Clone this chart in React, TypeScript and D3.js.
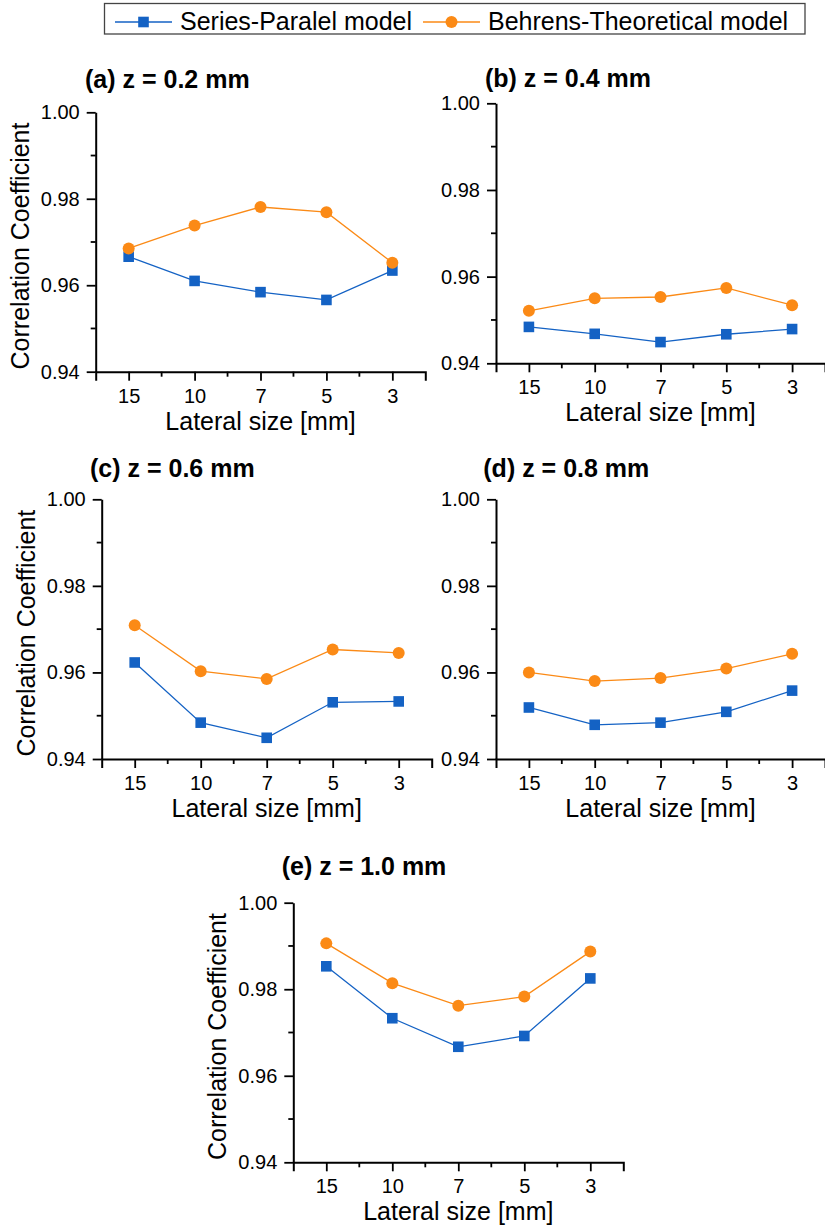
import React, { useEffect, useRef } from "react";
import * as d3 from "d3";

// Lateral sizes along the x axis (categorical, left to right)
const lateralSizes = ["15", "10", "7", "5", "3"];

// Correlation coefficients per depth z
const seriesParalelZ02 = [0.9666, 0.961, 0.9584, 0.9566, 0.9634];
const behrensZ02 = [0.9685, 0.9738, 0.9781, 0.9769, 0.9652];
const seriesParalelZ04 = [0.9484, 0.9468, 0.9449, 0.9467, 0.9479];
const behrensZ04 = [0.9521, 0.955, 0.9553, 0.9574, 0.9534];
const seriesParalelZ06 = [0.9623, 0.9484, 0.9449, 0.9531, 0.9533];
const behrensZ06 = [0.9709, 0.9603, 0.9585, 0.9653, 0.9645];
const seriesParalelZ08 = [0.9519, 0.9479, 0.9484, 0.9509, 0.9558];
const behrensZ08 = [0.96, 0.958, 0.9587, 0.9609, 0.9643];
const seriesParalelZ10 = [0.9853, 0.9733, 0.9667, 0.9692, 0.9825];
const behrensZ10 = [0.9906, 0.9814, 0.9762, 0.9783, 0.9887];

const yTicks = [0.94, 0.96, 0.98, 1.0];
const yMinorTicks = [0.95, 0.97, 0.99];
const panelTitles = [
  "(a) z = 0.2 mm",
  "(b) z = 0.4 mm",
  "(c) z = 0.6 mm",
  "(d) z = 0.8 mm",
  "(e) z = 1.0 mm",
];
const legendLabels = ["Series-Paralel model", "Behrens-Theoretical model"];

const BLUE = "#1462c4";
const ORANGE = "#fb8a16";
const FONT = "'Liberation Sans', Arial, Helvetica, sans-serif";
const SQ = 10.6; // square marker side
const CR = 6; // circle marker radius

type Panel = {
  title: string;
  sp: number[];
  bt: number[];
  left: number;
  top: number;
  width: number;
  height: number;
  titleX: number;
  titleY: number;
  yTitle: boolean;
};

const panels: Panel[] = [
  { title: panelTitles[0], sp: seriesParalelZ02, bt: behrensZ02, left: 95.7, top: 112.3, width: 329.6, height: 259.4, titleX: 85, titleY: 88.3, yTitle: true },
  { title: panelTitles[1], sp: seriesParalelZ04, bt: behrensZ04, left: 496, top: 103.3, width: 329, height: 260, titleX: 485, titleY: 86.7, yTitle: false },
  { title: panelTitles[2], sp: seriesParalelZ06, bt: behrensZ06, left: 101.7, top: 499.3, width: 330, height: 259.7, titleX: 90, titleY: 476.7, yTitle: true },
  { title: panelTitles[3], sp: seriesParalelZ08, bt: behrensZ08, left: 496, top: 499.3, width: 329, height: 259.7, titleX: 483.3, titleY: 476.7, yTitle: false },
  { title: panelTitles[4], sp: seriesParalelZ10, bt: behrensZ10, left: 293.3, top: 902.7, width: 330, height: 259.6, titleX: 281.7, titleY: 875, yTitle: true },
];

export default function App() {
  const ref = useRef<SVGSVGElement | null>(null);

  useEffect(() => {
    const svg = d3.select(ref.current);
    svg.selectAll("*").remove();

    // Legend
    const lg = svg.append("g");
    lg.append("rect")
      .attr("x", 104.5)
      .attr("y", 3.5)
      .attr("width", 700.5)
      .attr("height", 30.5)
      .attr("fill", "#fff")
      .attr("stroke", "#444")
      .attr("stroke-width", 1.3);
    const legendItems = [
      { x0: 115, color: BLUE, shape: "square", label: legendLabels[0] },
      { x0: 423, color: ORANGE, shape: "circle", label: legendLabels[1] },
    ];
    legendItems.forEach((it) => {
      lg.append("line")
        .attr("x1", it.x0)
        .attr("x2", it.x0 + 57)
        .attr("y1", 22)
        .attr("y2", 22)
        .attr("stroke", it.color)
        .attr("stroke-width", 1.3);
      if (it.shape === "square") {
        lg.append("rect")
          .attr("x", it.x0 + 28.5 - SQ / 2)
          .attr("y", 22 - SQ / 2)
          .attr("width", SQ)
          .attr("height", SQ)
          .attr("fill", it.color);
      } else {
        lg.append("circle")
          .attr("cx", it.x0 + 28.5)
          .attr("cy", 22)
          .attr("r", CR)
          .attr("fill", it.color);
      }
      lg.append("text")
        .attr("x", it.x0 + 65)
        .attr("y", 29.5)
        .attr("font-family", FONT)
        .attr("font-size", 25)
        .attr("fill", "#000")
        .text(it.label);
    });

    panels.forEach((p) => {
      const g = svg.append("g");
      const x = d3
        .scaleLinear()
        .domain([-0.5, lateralSizes.length - 0.5])
        .range([p.left, p.left + p.width]);
      const y = d3
        .scaleLinear()
        .domain([0.94, 1.0])
        .range([p.top + p.height, p.top]);

      // Title
      g.append("text")
        .attr("x", p.titleX)
        .attr("y", p.titleY)
        .attr("font-family", FONT)
        .attr("font-size", 25)
        .attr("font-weight", "bold")
        .text(p.title);

      // Y axis
      const yAxis = d3
        .axisLeft(y)
        .tickValues(yTicks)
        .tickSize(9)
        .tickSizeOuter(0)
        .tickPadding(7)
        .tickFormat((d) => d3.format(".2f")(d as number));
      const yg = g
        .append("g")
        .attr("transform", `translate(${p.left},0)`)
        .call(yAxis);
      yg.selectAll("text")
        .attr("font-family", FONT)
        .attr("font-size", 20)
        .attr("fill", "#000");
      yMinorTicks.forEach((v) => {
        g.append("line")
          .attr("x1", p.left - 5)
          .attr("x2", p.left)
          .attr("y1", y(v))
          .attr("y2", y(v))
          .attr("stroke", "#000")
          .attr("stroke-width", 1.8);
      });

      // X axis
      const xAxis = d3
        .axisBottom(x)
        .tickValues(d3.range(lateralSizes.length))
        .tickSize(9)
        .tickSizeOuter(9)
        .tickPadding(8)
        .tickFormat((d, i) => lateralSizes[i]);
      const xg = g
        .append("g")
        .attr("transform", `translate(0,${p.top + p.height})`)
        .call(xAxis);
      xg.selectAll("text")
        .attr("font-family", FONT)
        .attr("font-size", 20)
        .attr("fill", "#000");
      d3.range(lateralSizes.length - 1).forEach((i) => {
        g.append("line")
          .attr("x1", x(i + 0.5))
          .attr("x2", x(i + 0.5))
          .attr("y1", p.top + p.height)
          .attr("y2", p.top + p.height + 5)
          .attr("stroke", "#000")
          .attr("stroke-width", 1.8);
      });

      [yg, xg].forEach((ax) => {
        ax.select(".domain").attr("stroke", "#000").attr("stroke-width", 2);
        ax.selectAll(".tick line").attr("stroke", "#000").attr("stroke-width", 1.8);
      });

      // Axis titles
      g.append("text")
        .attr("x", p.left + p.width / 2)
        .attr("y", p.top + p.height + 58)
        .attr("text-anchor", "middle")
        .attr("font-family", FONT)
        .attr("font-size", 25)
        .text("Lateral size [mm]");
      if (p.yTitle) {
        const cx = p.left - 67;
        const cy = p.top + p.height / 2 + 4;
        g.append("text")
          .attr("transform", `translate(${cx},${cy}) rotate(-90)`)
          .attr("text-anchor", "middle")
          .attr("font-family", FONT)
          .attr("font-size", 25)
          .text("Correlation Coefficient");
      }

      // Series lines and markers
      const line = d3
        .line<number>()
        .x((_, i) => x(i))
        .y((d) => y(d));

      const series = [
        { values: p.sp, color: BLUE, shape: "square" },
        { values: p.bt, color: ORANGE, shape: "circle" },
      ];
      series.forEach((s) => {
        g.append("path")
          .datum(s.values)
          .attr("d", line)
          .attr("fill", "none")
          .attr("stroke", s.color)
          .attr("stroke-width", 1.3);
      });
      series.forEach((s) => {
        if (s.shape === "square") {
          g.selectAll(null)
            .data(s.values)
            .enter()
            .append("rect")
            .attr("x", (_, i) => x(i) - SQ / 2)
            .attr("y", (d) => y(d) - SQ / 2)
            .attr("width", SQ)
            .attr("height", SQ)
            .attr("fill", s.color);
        } else {
          g.selectAll(null)
            .data(s.values)
            .enter()
            .append("circle")
            .attr("cx", (_, i) => x(i))
            .attr("cy", (d) => y(d))
            .attr("r", CR)
            .attr("fill", s.color);
        }
      });
    });
  }, []);

  return (
    <svg
      ref={ref}
      width={825}
      height={1225}
      style={{ position: "absolute", left: 0, top: 0, background: "#fff" }}
    />
  );
}
